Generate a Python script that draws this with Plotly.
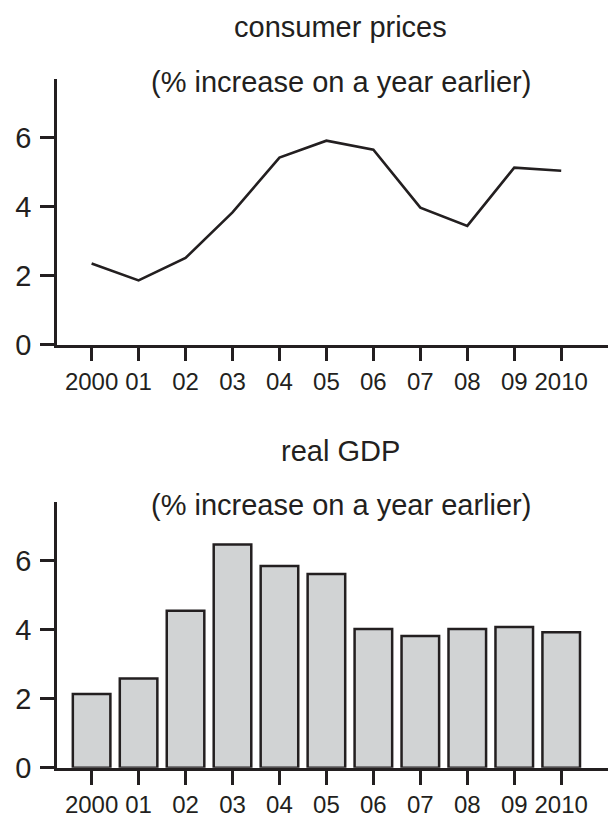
import plotly.graph_objects as go

years = [2000, 2001, 2002, 2003, 2004, 2005, 2006, 2007, 2008, 2009, 2010]
year_labels = ["2000", "01", "02", "03", "04", "05", "06", "07", "08", "09", "2010"]
cpi = [2.35, 1.86, 2.51, 3.83, 5.42, 5.91, 5.65, 3.97, 3.44, 5.13, 5.04]
gdp = [2.14, 2.59, 4.55, 6.47, 5.85, 5.62, 4.02, 3.82, 4.02, 4.08, 3.93]
y_ticks = [0, 2, 4, 6]

INK = "#231f20"
FONT = "Liberation Sans, Arial, sans-serif"
W, H = 616, 818

fig = go.Figure()
fig.add_trace(go.Scatter(x=years, y=cpi, mode="lines",
                         line=dict(color=INK, width=2.6), xaxis="x", yaxis="y",
                         showlegend=False))
fig.add_trace(go.Bar(x=years, y=gdp, width=0.8,
                     marker=dict(color="#d1d3d4", line=dict(color=INK, width=2.5)),
                     xaxis="x2", yaxis="y2", showlegend=False))

def py(p):
    return (H - p) / H

xcommon = dict(range=[1999.263, 2011.337], tickmode="array", tickvals=years,
               ticktext=year_labels, ticks="outside", ticklen=14, tickwidth=2.5,
               tickcolor=INK, showline=True, linewidth=2.5, linecolor=INK,
               showgrid=False, zeroline=False,
               tickfont=dict(family=FONT, size=24, color=INK))
ycommon = dict(range=[0, 7.69], tickmode="array", tickvals=y_ticks,
               ticks="outside", ticklen=14, tickwidth=2.5, tickcolor=INK,
               showline=True, linewidth=2.5, linecolor=INK,
               showgrid=False, zeroline=False, ticklabelstandoff=3,
               tickfont=dict(family=FONT, size=29, color=INK))

fig.update_layout(
    width=W, height=H,
    margin=dict(l=49, r=0, t=0, b=0),
    paper_bgcolor="white", plot_bgcolor="white",
    font=dict(family=FONT, color=INK),
    xaxis=dict(anchor="y", **xcommon),
    yaxis=dict(anchor="x", domain=[py(343.3), py(72.7)], **ycommon),
    xaxis2=dict(anchor="y2", **xcommon),
    yaxis2=dict(anchor="x2", domain=[py(775), py(504.3)], **ycommon),
    bargap=0.19,
)

titles = [("consumer prices", 19.7), ("(% increase on a year earlier)", 75.4),
          ("real GDP", 452), ("(% increase on a year earlier)", 507)]
for txt, ypix in titles:
    fig.add_annotation(text=txt, x=0.5, y=py(ypix), xref="paper", yref="paper",
                       xanchor="center", yanchor="middle", showarrow=False,
                       font=dict(family=FONT, size=29, color=INK))

fig.write_html("out.html")
